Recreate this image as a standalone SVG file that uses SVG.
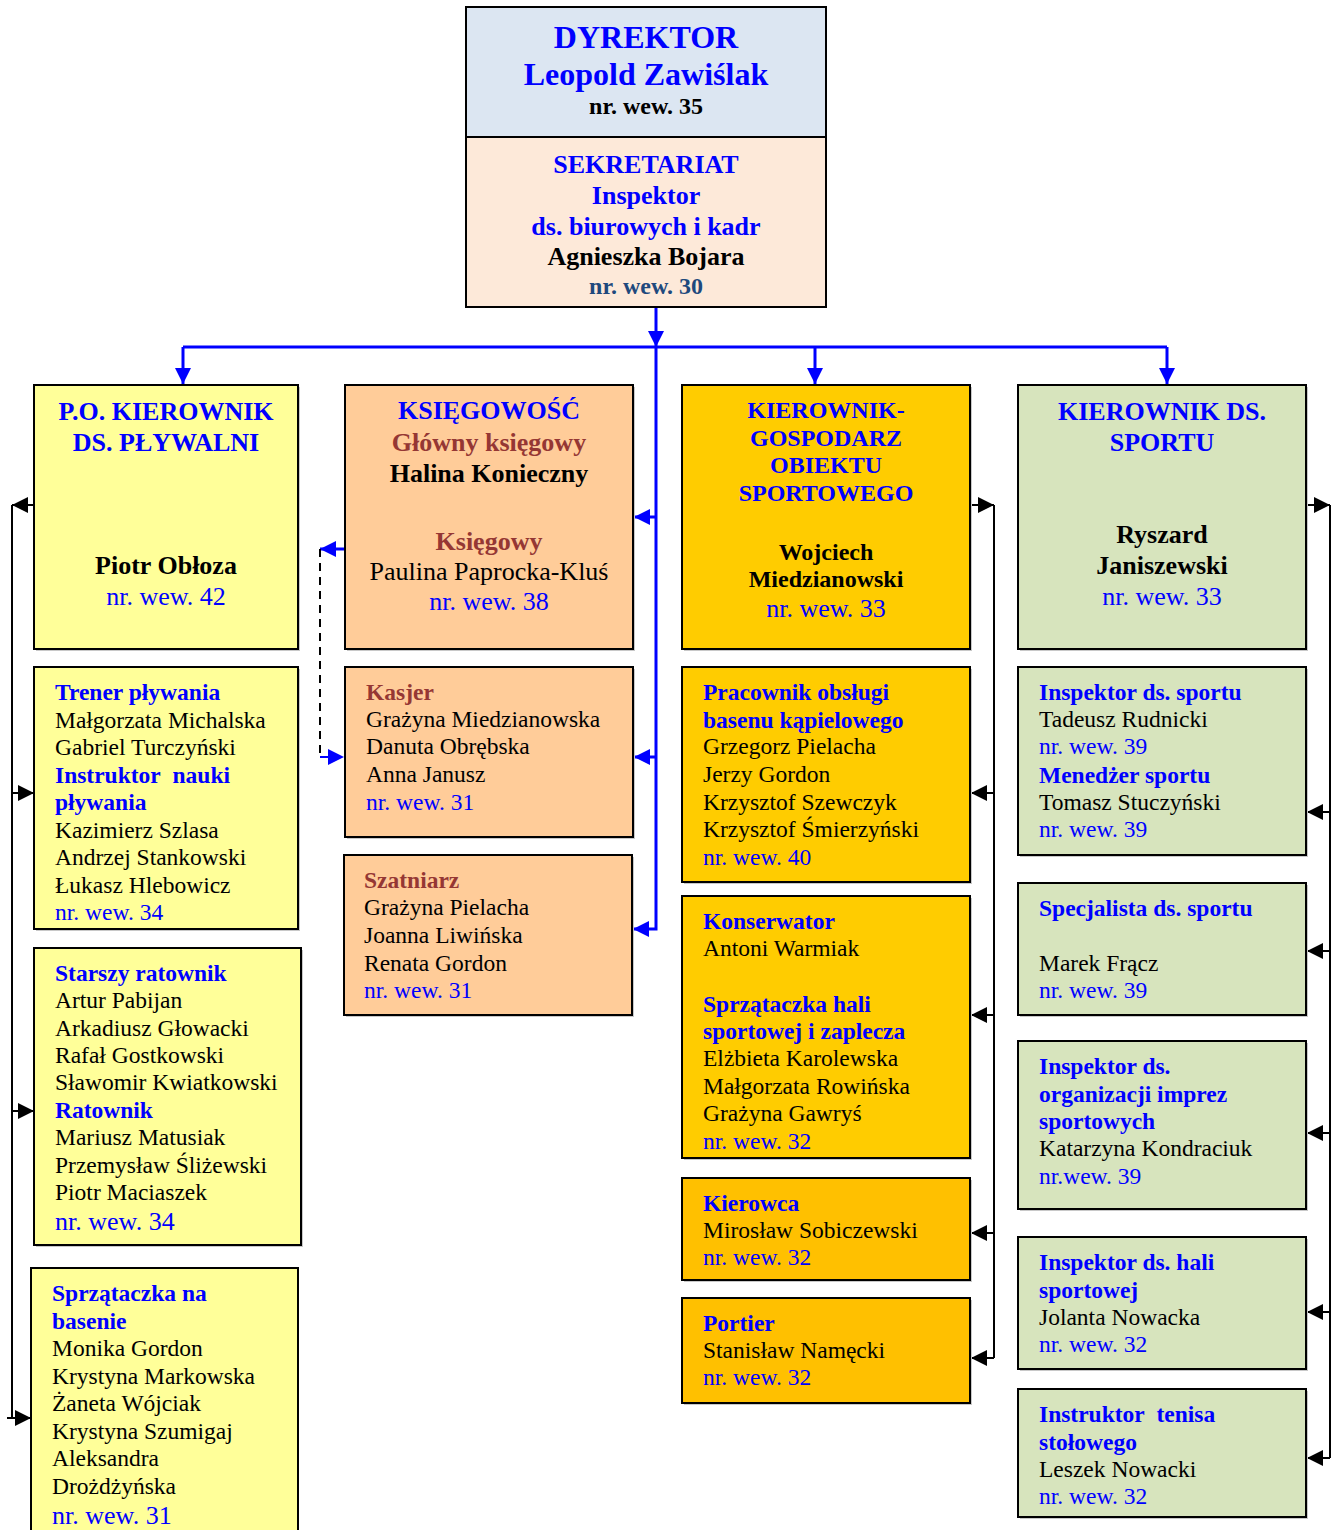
<svg xmlns="http://www.w3.org/2000/svg" width="1336" height="1530" viewBox="0 0 1336 1530">
<style>
text{font-family:"Liberation Serif","Times New Roman",serif}
.box{stroke:#000;stroke-width:2}
.sh{fill:#c8c8c8}
.dyr{fill:#DCE6F2}.sek{fill:#FDE9D9}.yel{fill:#FFFF99}.org{fill:#FFCC99}.gold{fill:#FFCC00}.gold2{fill:#FFC000}.grn{fill:#D7E4BD}
.hb{font-weight:bold;fill:#0000FF}
.kb{font-weight:bold;fill:#000}
.br{font-weight:bold;fill:#953734}
.n{fill:#000}
.bl{fill:#0000FF}
.s26{font-size:26px}.s24{font-size:24px}.s23{font-size:23.5px}.s32{font-size:32px}
.c{text-anchor:middle}
.bc{stroke:#0000FF;stroke-width:3;fill:none}
.kc{stroke:#000;stroke-width:2;fill:none}
.dc{stroke:#000;stroke-width:2;fill:none;stroke-dasharray:8 6}
.bcd{stroke:#0000FF;stroke-width:2;fill:none;stroke-dasharray:8 6}
</style>
<defs>
<marker id="ab" viewBox="0 0 10 10" refX="10" refY="5" markerWidth="16" markerHeight="16" markerUnits="userSpaceOnUse" orient="auto"><path d="M0,0 L10,5 L0,10 z" fill="#0000FF"/></marker>
<marker id="ak" viewBox="0 0 10 10" refX="10" refY="5" markerWidth="16" markerHeight="16" markerUnits="userSpaceOnUse" orient="auto"><path d="M0,0 L10,5 L0,10 z" fill="#000"/></marker>
</defs>
<rect width="1336" height="1530" fill="#fff"/>

<g id="connectors">
<path class="bc" d="M656,307 V347" marker-end="url(#ab)"/>
<path class="bc" d="M183,347 H1167"/>
<path class="bc" d="M183,347 V384" marker-end="url(#ab)"/>
<path class="bc" d="M815,347 V384" marker-end="url(#ab)"/>
<path class="bc" d="M1167,347 V384" marker-end="url(#ab)"/>
<path class="bc" d="M656,347 V929 H633" marker-end="url(#ab)"/>
<path class="bc" d="M656,517 H634" marker-end="url(#ab)"/>
<path class="bc" d="M656,757 H634" marker-end="url(#ab)"/>
<path class="bc" d="M344,549 H320" stroke-width="2" marker-end="url(#ab)"/>
<path class="dc" d="M320,549 V757"/>
<path class="bcd" d="M320,757 H344" marker-end="url(#ab)"/>
<path class="kc" d="M34,505 H12" marker-end="url(#ak)"/>
<path class="kc" d="M12,505 V1418"/>
<path class="kc" d="M12,793 H34" marker-end="url(#ak)"/>
<path class="kc" d="M12,1111 H34" marker-end="url(#ak)"/>
<path class="kc" d="M7,1418 H31" marker-end="url(#ak)"/>
<path class="kc" d="M970,505 H994" marker-end="url(#ak)"/>
<path class="kc" d="M994,505 V1358"/>
<path class="kc" d="M994,793 H971" marker-end="url(#ak)"/>
<path class="kc" d="M994,1015 H971" marker-end="url(#ak)"/>
<path class="kc" d="M994,1233 H971" marker-end="url(#ak)"/>
<path class="kc" d="M994,1358 H971" marker-end="url(#ak)"/>
<path class="kc" d="M1306,505 H1330" marker-end="url(#ak)"/>
<path class="kc" d="M1330,505 V1458"/>
<path class="kc" d="M1330,812 H1307" marker-end="url(#ak)"/>
<path class="kc" d="M1330,951 H1307" marker-end="url(#ak)"/>
<path class="kc" d="M1330,1133 H1307" marker-end="url(#ak)"/>
<path class="kc" d="M1330,1312 H1307" marker-end="url(#ak)"/>
<path class="kc" d="M1330,1458 H1307" marker-end="url(#ak)"/>
</g>

<g id="dyrektor">
<rect class="box dyr" x="466" y="7" width="360" height="130"/>
<text class="hb s32 c" x="646" y="48">DYREKTOR</text>
<text class="hb s32 c" x="646" y="85">Leopold Zawiślak</text>
<text class="kb s24 c" x="646" y="114">nr. wew. 35</text>
</g>

<g id="sekretariat">
<rect class="box sek" x="466" y="137" width="360" height="170"/>
<text class="hb s26 c" x="646" y="173">SEKRETARIAT</text>
<text class="hb s26 c" x="646" y="204">Inspektor</text>
<text class="hb s26 c" x="646" y="235">ds. biurowych i kadr</text>
<text class="kb s26 c" x="646" y="265">Agnieszka Bojara</text>
<text class="s24 c" x="646" y="294" font-weight="bold" fill="#1F497D">nr. wew. 30</text>
</g>

<g id="kier-plywalni">
<rect class="sh" x="36" y="387" width="264" height="264"/>
<rect class="box yel" x="34" y="385" width="264" height="264"/>
<text class="hb s26 c" x="166" y="420">P.O. KIEROWNIK</text>
<text class="hb s26 c" x="166" y="451">DS. PŁYWALNI</text>
<text class="kb s26 c" x="166" y="574">Piotr Obłoza</text>
<text class="bl s26 c" x="166" y="605">nr. wew. 42</text>
</g>

<g id="trener">
<rect class="sh" x="36" y="669" width="264" height="262"/>
<rect class="box yel" x="34" y="667" width="264" height="262"/>
<text class="s23" x="55">
<tspan class="hb" x="55" y="700">Trener pływania</tspan>
<tspan class="n" x="55" y="727.5">Małgorzata Michalska</tspan>
<tspan class="n" x="55" y="755">Gabriel Turczyński</tspan>
<tspan class="hb" x="55" y="782.5">Instruktor&#160; nauki</tspan>
<tspan class="hb" x="55" y="810">pływania</tspan>
<tspan class="n" x="55" y="837.5">Kazimierz Szlasa</tspan>
<tspan class="n" x="55" y="865">Andrzej Stankowski</tspan>
<tspan class="n" x="55" y="892.5">Łukasz Hlebowicz</tspan>
<tspan class="bl" x="55" y="920">nr. wew. 34</tspan>
</text>
</g>

<g id="ratownik">
<rect class="sh" x="36" y="950" width="267" height="297"/>
<rect class="box yel" x="34" y="948" width="267" height="297"/>
<text class="s23" x="55">
<tspan class="hb" x="55" y="981">Starszy ratownik</tspan>
<tspan class="n" x="55" y="1008">Artur Pabijan</tspan>
<tspan class="n" x="55" y="1036">Arkadiusz Głowacki</tspan>
<tspan class="n" x="55" y="1063">Rafał Gostkowski</tspan>
<tspan class="n" x="55" y="1090">Sławomir Kwiatkowski</tspan>
<tspan class="hb" x="55" y="1118">Ratownik</tspan>
<tspan class="n" x="55" y="1145">Mariusz Matusiak</tspan>
<tspan class="n" x="55" y="1173">Przemysław Śliżewski</tspan>
<tspan class="n" x="55" y="1200">Piotr Maciaszek</tspan>
</text>
<text class="bl s26" x="55" y="1230">nr. wew. 34</text>
</g>

<g id="sprzataczka-basen">
<rect class="box yel" x="31" y="1268" width="267" height="270"/>
<text class="s23" x="52">
<tspan class="hb" x="52" y="1301">Sprzątaczka na</tspan>
<tspan class="hb" x="52" y="1329">basenie</tspan>
<tspan class="n" x="52" y="1356">Monika Gordon</tspan>
<tspan class="n" x="52" y="1384">Krystyna Markowska</tspan>
<tspan class="n" x="52" y="1411">Żaneta Wójciak</tspan>
<tspan class="n" x="52" y="1439">Krystyna Szumigaj</tspan>
<tspan class="n" x="52" y="1466">Aleksandra</tspan>
<tspan class="n" x="52" y="1494">Drożdżyńska</tspan>
</text>
<text class="bl s26" x="52" y="1524">nr. wew. 31</text>
</g>

<g id="ksiegowosc">
<rect class="sh" x="347" y="387" width="288" height="264"/>
<rect class="box org" x="345" y="385" width="288" height="264"/>
<text class="hb s26 c" x="489" y="419">KSIĘGOWOŚĆ</text>
<text class="br s26 c" x="489" y="451">Główny księgowy</text>
<text class="kb s26 c" x="489" y="482">Halina Konieczny</text>
<text class="br s26 c" x="489" y="550">Księgowy</text>
<text class="n s26 c" x="489" y="580">Paulina Paprocka-Kluś</text>
<text class="bl s26 c" x="489" y="610">nr. wew. 38</text>
</g>

<g id="kasjer">
<rect class="sh" x="347" y="669" width="288" height="170"/>
<rect class="box org" x="345" y="667" width="288" height="170"/>
<text class="s23">
<tspan class="br" x="366" y="700">Kasjer</tspan>
<tspan class="n" x="366" y="727">Grażyna Miedzianowska</tspan>
<tspan class="n" x="366" y="754">Danuta Obrębska</tspan>
<tspan class="n" x="366" y="782">Anna Janusz</tspan>
<tspan class="bl" x="366" y="810">nr. wew. 31</tspan>
</text>
</g>

<g id="szatniarz">
<rect class="sh" x="346" y="857" width="288" height="160"/>
<rect class="box org" x="344" y="855" width="288" height="160"/>
<text class="s23">
<tspan class="br" x="364" y="888">Szatniarz</tspan>
<tspan class="n" x="364" y="915">Grażyna Pielacha</tspan>
<tspan class="n" x="364" y="943">Joanna Liwińska</tspan>
<tspan class="n" x="364" y="971">Renata Gordon</tspan>
<tspan class="bl" x="364" y="998">nr. wew. 31</tspan>
</text>
</g>

<g id="kier-gospodarz">
<rect class="sh" x="684" y="387" width="288" height="264"/>
<rect class="box gold" x="682" y="385" width="288" height="264"/>
<text class="hb s24 c" x="826" y="418">KIEROWNIK-</text>
<text class="hb s24 c" x="826" y="445.5">GOSPODARZ</text>
<text class="hb s24 c" x="826" y="473">OBIEKTU</text>
<text class="hb s24 c" x="826" y="501">SPORTOWEGO</text>
<text class="kb s24 c" x="826" y="560">Wojciech</text>
<text class="kb s24 c" x="826" y="587">Miedzianowski</text>
<text class="bl s26 c" x="826" y="617">nr. wew. 33</text>
</g>

<g id="pracownik-basen">
<rect class="sh" x="684" y="669" width="288" height="215"/>
<rect class="box gold" x="682" y="667" width="288" height="215"/>
<text class="s23">
<tspan class="hb" x="703" y="700">Pracownik obsługi</tspan>
<tspan class="hb" x="703" y="728">basenu kąpielowego</tspan>
<tspan class="n" x="703" y="754">Grzegorz Pielacha</tspan>
<tspan class="n" x="703" y="782">Jerzy Gordon</tspan>
<tspan class="n" x="703" y="810">Krzysztof Szewczyk</tspan>
<tspan class="n" x="703" y="837">Krzysztof Śmierzyński</tspan>
<tspan class="bl" x="703" y="865">nr. wew. 40</tspan>
</text>
</g>

<g id="konserwator">
<rect class="sh" x="684" y="898" width="288" height="262"/>
<rect class="box gold" x="682" y="896" width="288" height="262"/>
<text class="s23">
<tspan class="hb" x="703" y="929">Konserwator</tspan>
<tspan class="n" x="703" y="956">Antoni Warmiak</tspan>
<tspan class="hb" x="703" y="1012">Sprzątaczka hali</tspan>
<tspan class="hb" x="703" y="1039">sportowej i zaplecza</tspan>
<tspan class="n" x="703" y="1066">Elżbieta Karolewska</tspan>
<tspan class="n" x="703" y="1094">Małgorzata Rowińska</tspan>
<tspan class="n" x="703" y="1121">Grażyna Gawryś</tspan>
<tspan class="bl" x="703" y="1149">nr. wew. 32</tspan>
</text>
</g>

<g id="kierowca">
<rect class="sh" x="684" y="1180" width="288" height="102"/>
<rect class="box gold2" x="682" y="1178" width="288" height="102"/>
<text class="s23">
<tspan class="hb" x="703" y="1211">Kierowca</tspan>
<tspan class="n" x="703" y="1238">Mirosław Sobiczewski</tspan>
<tspan class="bl" x="703" y="1265">nr. wew. 32</tspan>
</text>
</g>

<g id="portier">
<rect class="sh" x="684" y="1300" width="288" height="105"/>
<rect class="box gold2" x="682" y="1298" width="288" height="105"/>
<text class="s23">
<tspan class="hb" x="703" y="1331">Portier</tspan>
<tspan class="n" x="703" y="1358">Stanisław Namęcki</tspan>
<tspan class="bl" x="703" y="1385">nr. wew. 32</tspan>
</text>
</g>

<g id="kier-sportu">
<rect class="sh" x="1020" y="387" width="288" height="264"/>
<rect class="box grn" x="1018" y="385" width="288" height="264"/>
<text class="hb s26 c" x="1162" y="420">KIEROWNIK DS.</text>
<text class="hb s26 c" x="1162" y="451">SPORTU</text>
<text class="kb s26 c" x="1162" y="543">Ryszard</text>
<text class="kb s26 c" x="1162" y="574">Janiszewski</text>
<text class="bl s26 c" x="1162" y="605">nr. wew. 33</text>
</g>

<g id="insp-sportu">
<rect class="sh" x="1020" y="669" width="288" height="188"/>
<rect class="box grn" x="1018" y="667" width="288" height="188"/>
<text class="s23">
<tspan class="hb" x="1039" y="700">Inspektor ds. sportu</tspan>
<tspan class="n" x="1039" y="727">Tadeusz Rudnicki</tspan>
<tspan class="bl" x="1039" y="754">nr. wew. 39</tspan>
<tspan class="hb" x="1039" y="783">Menedżer sportu</tspan>
<tspan class="n" x="1039" y="810">Tomasz Stuczyński</tspan>
<tspan class="bl" x="1039" y="837">nr. wew. 39</tspan>
</text>
</g>

<g id="specjalista">
<rect class="sh" x="1020" y="885" width="288" height="132"/>
<rect class="box grn" x="1018" y="883" width="288" height="132"/>
<text class="s23">
<tspan class="hb" x="1039" y="916">Specjalista ds. sportu</tspan>
<tspan class="n" x="1039" y="971">Marek Frącz</tspan>
<tspan class="bl" x="1039" y="998">nr. wew. 39</tspan>
</text>
</g>

<g id="insp-imprez">
<rect class="sh" x="1020" y="1043" width="288" height="168"/>
<rect class="box grn" x="1018" y="1041" width="288" height="168"/>
<text class="s23">
<tspan class="hb" x="1039" y="1074">Inspektor ds.</tspan>
<tspan class="hb" x="1039" y="1102">organizacji imprez</tspan>
<tspan class="hb" x="1039" y="1129">sportowych</tspan>
<tspan class="n" x="1039" y="1156">Katarzyna Kondraciuk</tspan>
<tspan class="bl" x="1039" y="1184">nr.wew. 39</tspan>
</text>
</g>

<g id="insp-hali">
<rect class="sh" x="1020" y="1239" width="288" height="132"/>
<rect class="box grn" x="1018" y="1237" width="288" height="132"/>
<text class="s23">
<tspan class="hb" x="1039" y="1270">Inspektor ds. hali</tspan>
<tspan class="hb" x="1039" y="1298">sportowej</tspan>
<tspan class="n" x="1039" y="1325">Jolanta Nowacka</tspan>
<tspan class="bl" x="1039" y="1352">nr. wew. 32</tspan>
</text>
</g>

<g id="instr-tenisa">
<rect class="sh" x="1020" y="1391" width="288" height="128"/>
<rect class="box grn" x="1018" y="1389" width="288" height="128"/>
<text class="s23">
<tspan class="hb" x="1039" y="1422">Instruktor&#160; tenisa</tspan>
<tspan class="hb" x="1039" y="1450">stołowego</tspan>
<tspan class="n" x="1039" y="1477">Leszek Nowacki</tspan>
<tspan class="bl" x="1039" y="1504">nr. wew. 32</tspan>
</text>
</g>
</svg>
